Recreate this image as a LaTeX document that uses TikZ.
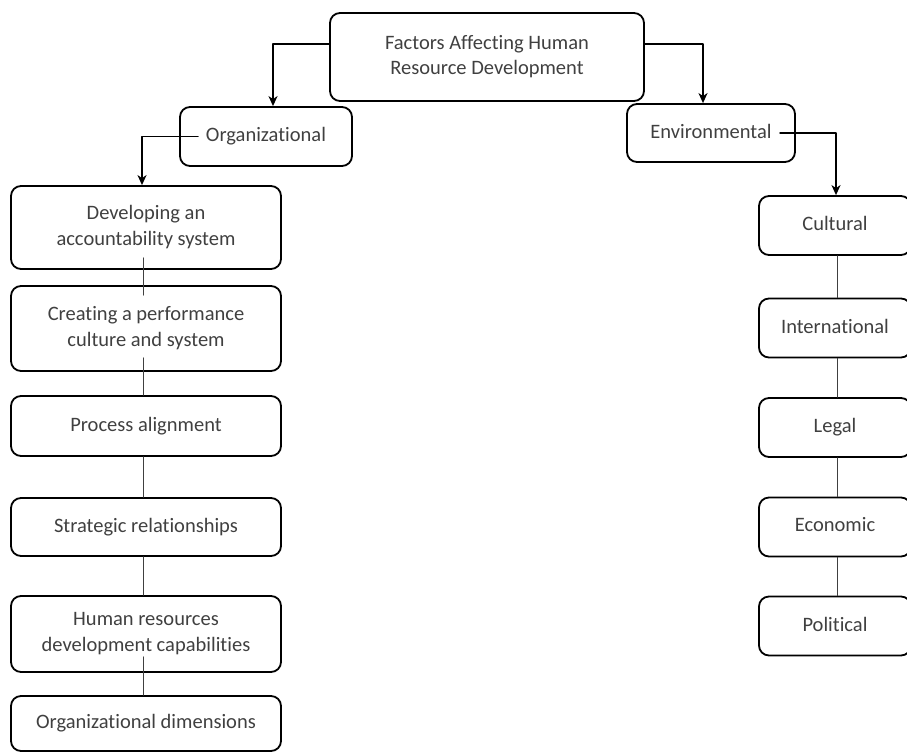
\documentclass[tikz,border=0pt]{standalone}
\usepackage{fontspec}
\setmainfont{Carlito}[Ligatures={NoCommon,NoContextual,NoRare}, Contextuals=NoAlternate]
\usetikzlibrary{arrows.meta}

\begin{document}
\begin{tikzpicture}[x=1pt, y=-1pt, line join=round, line cap=round, >={Stealth[length=10pt, width=9pt, inset=3pt]}, font=\fontsize{20.5}{25.5}\selectfont]
			\tikzset{
				box/.style={draw=black, line width=1.8pt, rounded corners=10pt, text=black!75, align=center, inner sep=0pt, text depth=0.42em},
				link/.style={draw=black!75, line width=0.9pt},
				arr/.style={->, draw=black, line width=1.5pt}
			}
			\clip (0,0) rectangle (907,753);
			\def\leftbox#1#2#3#4{
				\node[box, minimum width=270pt, minimum height=#3] (#1) at (146,#2) {#4};
			}
			\def\rightbox#1#2#3{
				\node[box, minimum width=152pt, minimum height=59pt] (#1) at (835,#2) {#3};
			}
			
			\node[box, minimum width=314pt, minimum height=88pt] (top) at (487,57) {Factors Affecting Human\\Resource Development};
			\node[box, minimum width=172pt, minimum height=59pt] (org) at (266,136.5) {Organizational};
			\node[box, minimum width=168pt, minimum height=58pt] (env) at (711,133) {Environmental};
			
			\leftbox{acc}{227.5}{83pt}{Developing an\\accountability system}
			\leftbox{perf}{328.5}{85pt}{Creating a performance\\culture and system}
			\leftbox{proc}{426}{60pt}{Process alignment}
			\leftbox{strat}{527}{58pt}{Strategic relationships}
			\leftbox{hrd}{634}{76pt}{Human resources\\development capabilities}
			\leftbox{dim}{723.5}{55pt}{Organizational dimensions}
			
			\rightbox{cul}{225.5}{Cultural}
			\rightbox{int}{328}{International}
			\rightbox{leg}{427.5}{Legal}
			\rightbox{eco}{527}{Economic}
			\rightbox{pol}{626}{Political}
			
			\draw[arr] ([yshift=13pt]top.west) -| ([xshift=7pt]org.north);
			\draw[arr] ([yshift=13pt]top.east) -| ([xshift=-8pt]env.north);
			\draw[arr] ([xshift=-68pt]org.center) -| ([xshift=-4pt]acc.north);
			\draw[arr] ([xshift=69pt]env.center) -| ([xshift=1pt]cul.north);
			
			\foreach \a/\b/\s/\e in {acc/perf/12/-10, perf/proc/14/0, proc/strat/0/0, strat/hrd/0/0, hrd/dim/16/0} {
				\draw[link] ([xshift=-3pt, yshift=\s pt]\a.south) -- ([xshift=-3pt, yshift=\e pt]\b.north);
			}
			\foreach \a/\b in {cul/int, int/leg, leg/eco, eco/pol} {
				\draw[link] ([xshift=2pt]\a.south) -- ([xshift=2pt]\b.north);
			}
		\end{tikzpicture}
\end{document}
